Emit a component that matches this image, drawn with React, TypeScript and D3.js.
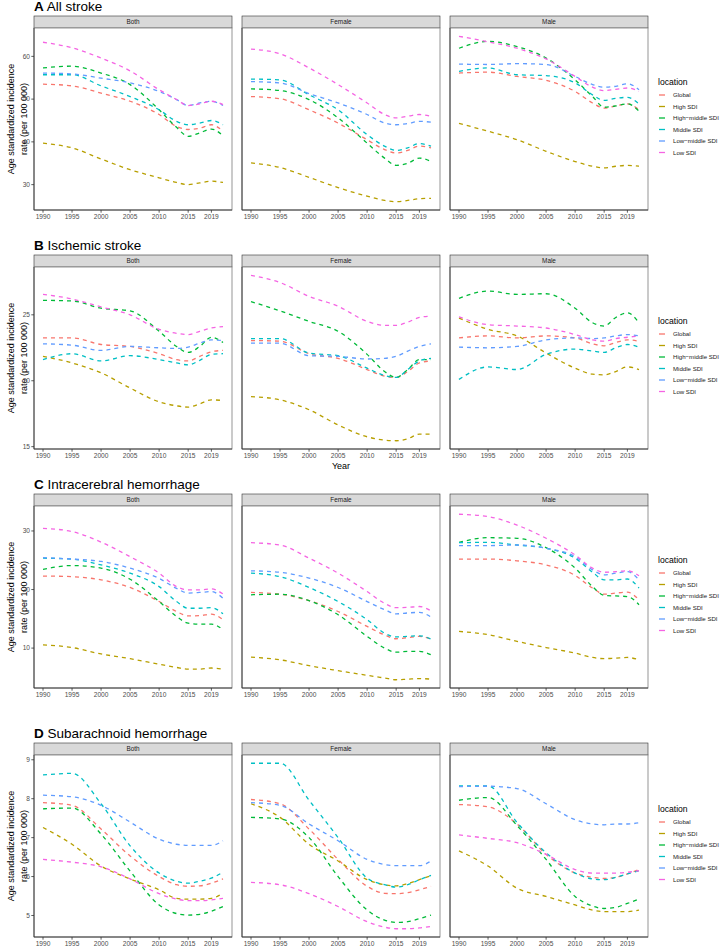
import React from "react";
import * as d3 from "d3";

const years = [1990, 1995, 2000, 2005, 2010, 2013, 2015, 2017, 2019, 2021];
const locations = ["Global", "High SDI", "High\u2212middle SDI", "Middle SDI", "Low\u2212middle SDI", "Low SDI"];
const colors = ["#F8766D", "#B79F00", "#00BA38", "#00BFC4", "#619CFF", "#F564E3"];
const sexes = ["Both", "Female", "Male"];
const xTicks = [1990, 1995, 2000, 2005, 2010, 2015, 2019];

// order: Global, High, High-middle, Middle, Low-middle, Low
const allStrokeBoth = [
  [53.5, 53.1, 51.4, 49.5, 46.4, 43.6, 42.9, 43.2, 44.0, 42.5],
  [39.7, 38.6, 36.0, 33.5, 31.6, 30.5, 30.0, 30.4, 30.8, 30.5],
  [57.3, 57.7, 56.1, 53.4, 47.5, 43.4, 41.3, 42.1, 43.0, 41.4],
  [55.7, 55.7, 53.1, 50.6, 47.5, 44.8, 44.0, 44.4, 45.0, 44.0],
  [56.1, 55.9, 54.9, 53.8, 51.8, 49.9, 48.5, 49.1, 49.5, 48.5],
  [63.3, 62.0, 59.6, 56.6, 52.2, 49.9, 48.5, 48.9, 49.5, 48.7],
];
const allStrokeFemale = [
  [50.6, 50.1, 47.5, 44.4, 40.5, 38.2, 37.4, 38.0, 39.0, 38.6],
  [35.1, 34.0, 31.7, 29.3, 27.3, 26.3, 26.0, 26.3, 26.7, 26.8],
  [52.4, 52.0, 49.9, 45.6, 39.7, 36.2, 34.5, 35.0, 36.2, 35.4],
  [54.7, 54.5, 51.0, 47.5, 41.7, 39.0, 38.0, 38.6, 39.6, 39.0],
  [54.1, 53.8, 51.3, 49.1, 46.4, 44.4, 44.0, 44.3, 44.8, 44.6],
  [61.7, 60.6, 57.3, 53.4, 49.1, 46.4, 45.6, 46.0, 46.4, 46.0],
];
const allStrokeMale = [
  [56.1, 56.3, 55.3, 54.4, 51.8, 49.1, 47.9, 48.4, 48.9, 47.5],
  [44.3, 42.5, 40.5, 37.8, 35.4, 34.3, 33.9, 34.3, 34.5, 34.3],
  [61.9, 63.5, 62.3, 59.6, 54.5, 50.6, 48.1, 48.4, 48.9, 47.2],
  [56.5, 57.3, 55.7, 55.5, 53.8, 51.0, 49.7, 50.2, 50.4, 48.9],
  [58.2, 58.1, 58.3, 58.1, 55.3, 53.4, 52.8, 53.0, 53.6, 52.2],
  [64.7, 63.4, 61.9, 59.4, 55.3, 52.8, 52.0, 52.3, 52.6, 51.8],
];
const ischemicBoth = [
  [23.25, 23.25, 22.75, 22.6, 22.05, 21.6, 21.5, 21.85, 22.2, 22.3],
  [21.85, 21.35, 20.6, 19.45, 18.4, 18.1, 18.0, 18.25, 18.55, 18.5],
  [26.1, 26.05, 25.5, 25.3, 23.75, 22.6, 22.15, 22.6, 23.3, 22.9],
  [21.6, 22.05, 21.5, 21.9, 21.6, 21.35, 21.2, 21.55, 22.0, 22.05],
  [22.8, 22.7, 22.3, 22.6, 22.5, 22.45, 22.55, 22.85, 23.1, 23.05],
  [26.55, 26.2, 25.6, 25.0, 23.9, 23.6, 23.5, 23.75, 24.0, 24.1],
];
const ischemicFemale = [
  [23.05, 23.0, 22.05, 21.7, 20.85, 20.35, 20.25, 20.7, 21.35, 21.5],
  [18.8, 18.55, 17.8, 16.65, 15.75, 15.5, 15.45, 15.6, 15.95, 15.95],
  [26.0, 25.3, 24.5, 23.75, 22.0, 20.7, 20.25, 20.85, 21.6, 21.6],
  [23.2, 23.2, 22.1, 21.9, 20.95, 20.4, 20.25, 20.85, 21.5, 21.7],
  [22.85, 22.85, 21.9, 21.85, 21.65, 21.7, 21.85, 22.25, 22.6, 22.8],
  [28.0, 27.45, 26.4, 25.65, 24.5, 24.2, 24.2, 24.45, 24.8, 24.9],
];
const ischemicMale = [
  [23.25, 23.4, 23.25, 23.4, 23.25, 22.8, 22.65, 22.9, 23.1, 23.0],
  [24.75, 23.9, 23.4, 22.1, 20.95, 20.5, 20.45, 20.7, 21.05, 20.85],
  [26.25, 26.8, 26.55, 26.6, 25.5, 24.4, 24.15, 24.8, 25.15, 24.4],
  [20.1, 21.05, 20.85, 22.0, 22.4, 22.25, 22.15, 22.5, 22.75, 22.55],
  [22.55, 22.5, 22.6, 23.1, 23.25, 23.2, 23.25, 23.4, 23.5, 23.4],
  [24.85, 24.25, 24.15, 24.0, 23.5, 23.1, 23.0, 23.2, 23.3, 23.4],
];
const ichBoth = [
  [22.3, 22.2, 21.65, 20.35, 17.95, 16.25, 15.5, 15.55, 15.8, 14.85],
  [10.55, 10.1, 9.0, 8.2, 7.25, 6.7, 6.4, 6.4, 6.6, 6.4],
  [23.45, 24.1, 23.65, 21.75, 17.95, 15.4, 14.25, 14.1, 14.1, 13.15],
  [25.35, 25.2, 24.2, 22.8, 20.5, 17.95, 16.8, 16.8, 16.9, 15.85],
  [25.45, 25.2, 24.8, 23.65, 21.9, 20.2, 19.4, 19.5, 19.65, 18.5],
  [30.45, 29.9, 28.1, 25.6, 22.8, 20.5, 19.95, 19.95, 20.1, 19.25],
];
const ichFemale = [
  [19.5, 19.2, 18.1, 16.25, 13.7, 12.25, 11.6, 11.8, 12.0, 11.55],
  [8.45, 8.0, 7.0, 6.15, 5.35, 4.9, 4.6, 4.7, 4.8, 4.7],
  [19.1, 19.2, 18.1, 15.7, 12.0, 10.0, 9.3, 9.45, 9.45, 8.85],
  [22.8, 22.2, 20.35, 17.95, 14.85, 12.55, 11.9, 12.0, 12.1, 11.55],
  [23.2, 22.95, 21.95, 20.35, 17.95, 16.55, 15.85, 16.0, 16.1, 15.3],
  [28.0, 27.6, 25.35, 22.8, 19.65, 17.65, 16.9, 16.95, 17.1, 16.35],
];
const ichMale = [
  [25.2, 25.2, 24.9, 24.2, 22.4, 20.25, 19.2, 19.4, 19.55, 18.25],
  [12.85, 12.3, 11.15, 10.1, 9.15, 8.4, 8.2, 8.3, 8.4, 8.0],
  [28.05, 28.85, 28.75, 27.15, 23.65, 20.5, 19.0, 18.9, 18.8, 17.4],
  [28.0, 28.05, 27.6, 27.05, 25.35, 22.95, 21.65, 21.65, 21.8, 20.25],
  [27.5, 27.5, 27.6, 27.05, 25.6, 23.35, 22.5, 22.8, 23.05, 21.65],
  [32.85, 32.45, 31.0, 28.75, 25.9, 23.65, 22.95, 23.05, 23.2, 22.35],
];
const sahBoth = [
  [7.9, 7.83, 7.22, 6.53, 6.0, 5.79, 5.75, 5.76, 5.83, 5.94],
  [7.26, 6.83, 6.27, 5.94, 5.66, 5.44, 5.42, 5.42, 5.44, 5.57],
  [7.74, 7.76, 7.09, 6.14, 5.27, 5.05, 5.01, 5.03, 5.11, 5.23],
  [8.61, 8.65, 7.87, 6.79, 6.09, 5.88, 5.83, 5.88, 5.96, 6.11],
  [8.09, 8.05, 7.83, 7.4, 6.96, 6.83, 6.8, 6.8, 6.8, 6.92],
  [6.44, 6.37, 6.25, 5.94, 5.56, 5.42, 5.38, 5.38, 5.4, 5.44],
];
const sahFemale = [
  [7.98, 7.87, 7.22, 6.44, 5.75, 5.57, 5.56, 5.59, 5.66, 5.75],
  [7.87, 7.52, 6.83, 6.4, 5.92, 5.79, 5.76, 5.82, 5.92, 6.02],
  [7.52, 7.48, 7.0, 6.0, 5.14, 4.88, 4.82, 4.84, 4.92, 5.01],
  [8.91, 8.91, 7.96, 7.0, 5.96, 5.79, 5.73, 5.79, 5.92, 6.03],
  [7.9, 7.83, 7.35, 6.92, 6.44, 6.31, 6.28, 6.28, 6.28, 6.4],
  [5.85, 5.79, 5.56, 5.23, 4.84, 4.7, 4.66, 4.66, 4.68, 4.72],
];
const sahMale = [
  [7.85, 7.79, 7.35, 6.57, 6.09, 5.98, 5.95, 5.98, 6.07, 6.18],
  [6.66, 6.27, 5.7, 5.49, 5.27, 5.14, 5.1, 5.1, 5.1, 5.14],
  [7.96, 8.03, 7.31, 6.44, 5.49, 5.24, 5.18, 5.21, 5.31, 5.42],
  [8.33, 8.33, 7.39, 6.61, 6.09, 5.94, 5.92, 5.98, 6.07, 6.15],
  [8.31, 8.32, 8.26, 7.87, 7.46, 7.35, 7.33, 7.35, 7.35, 7.38],
  [7.07, 6.98, 6.87, 6.57, 6.18, 6.09, 6.09, 6.09, 6.11, 6.15],
];

const panelLetters = ["A", "B", "C", "D"];
const panelNames = ["All stroke", "Ischemic stroke", "Intracerebral hemorrhage", "Subarachnoid hemorrhage"];
const panelData = [
  [allStrokeBoth, allStrokeFemale, allStrokeMale],
  [ischemicBoth, ischemicFemale, ischemicMale],
  [ichBoth, ichFemale, ichMale],
  [sahBoth, sahFemale, sahMale],
];
const panelYTicks = [
  [30, 40, 50, 60],
  [15, 20, 25],
  [10, 20, 30],
  [5, 6, 7, 8, 9],
];

const W = 720;
const H = 947;
const FONT = "Liberation Sans, Arial, Helvetica, sans-serif";
const stripTops = [16, 255, 494, 743];
const facetLefts = [34, 242, 450];
const facetW = 198;
const stripH = 12;
const plotH = 182;

function Panel({ idx }: { idx: number }) {
  const stripTop = stripTops[idx];
  const plotTop = stripTop + stripH;
  const plotBottom = plotTop + plotH;
  const data = panelData[idx];
  const all = data.flat(2);
  const mn = d3.min(all) as number;
  const mx = d3.max(all) as number;
  const r = mx - mn;
  const y = d3.scaleLinear().domain([mn - 0.05 * r, mx + 0.05 * r]).range([plotBottom, plotTop]);
  const x0 = years[0], x1 = years[years.length - 1];
  const xr = x1 - x0;
  const cy = (plotTop + plotBottom) / 2;
  return (
    <g>
      <text x={34} y={stripTop - 5} fontSize={13.5} fill="#000">
        <tspan fontWeight="bold">{panelLetters[idx]}</tspan>
        <tspan> {panelNames[idx]}</tspan>
      </text>
      <text transform={`translate(13.5,${cy}) rotate(-90)`} textAnchor="middle" fontSize={9} fill="#000">
        Age standardized incidence
      </text>
      <text transform={`translate(26.5,${cy}) rotate(-90)`} textAnchor="middle" fontSize={9} fill="#000">
        rate (per 100 000)
      </text>
      {sexes.map((sex, fi) => {
        const fx = facetLefts[fi];
        const x = d3.scaleLinear().domain([x0 - 0.05 * xr, x1 + 0.05 * xr]).range([fx, fx + facetW]);
        const line = d3
          .line<number>()
          .x((_, i) => x(years[i]))
          .y((v) => y(v))
          .curve(d3.curveMonotoneX);
        return (
          <g key={sex}>
            <rect x={fx} y={stripTop} width={facetW} height={stripH} fill="#D9D9D9" stroke="#333" strokeWidth={0.6} />
            <text x={fx + facetW / 2} y={stripTop + 8.4} textAnchor="middle" fontSize={6.4} fill="#1A1A1A">
              {sex}
            </text>
            <rect x={fx} y={plotTop} width={facetW} height={plotH} fill="#fff" stroke="#8a8a8a" strokeWidth={0.9} />
            <line x1={fx} x2={fx} y1={plotTop} y2={plotBottom} stroke="#333" strokeWidth={0.9} />
            <line x1={fx} x2={fx + facetW} y1={plotBottom} y2={plotBottom} stroke="#333" strokeWidth={0.9} />
            {data[fi].map((vals, si) => (
              <path
                key={si}
                d={line(vals) || ""}
                fill="none"
                stroke={colors[si]}
                strokeWidth={1.3}
                strokeDasharray="4,4"
              />
            ))}
            {xTicks.map((t) => (
              <g key={t}>
                <line x1={x(t)} x2={x(t)} y1={plotBottom} y2={plotBottom + 2.7} stroke="#333" strokeWidth={0.8} />
                <text x={x(t)} y={plotBottom + 9.4} textAnchor="middle" fontSize={6.6} fill="#4D4D4D">
                  {t}
                </text>
              </g>
            ))}
            {fi === 0 &&
              panelYTicks[idx].map((t) => (
                <g key={t}>
                  <line x1={fx - 2.7} x2={fx} y1={y(t)} y2={y(t)} stroke="#333" strokeWidth={0.8} />
                  <text x={fx - 4} y={y(t) + 2.3} textAnchor="end" fontSize={6.6} fill="#4D4D4D">
                    {t}
                  </text>
                </g>
              ))}
          </g>
        );
      })}
      {idx === 1 && (
        <text x={facetLefts[1] + facetW / 2} y={plotBottom + 20} textAnchor="middle" fontSize={9} fill="#000">
          Year
        </text>
      )}
      <g>
        <text x={658} y={cy - 34} fontSize={8.6} fill="#000">
          location
        </text>
        {locations.map((loc, li) => {
          const ly = cy - 24 + li * 11.5;
          return (
            <g key={loc}>
              <line x1={659} x2={665} y1={ly} y2={ly} stroke={colors[li]} strokeWidth={1.3} />
              <text x={673} y={ly + 2.2} fontSize={6.1} fill="#1A1A1A">
                {loc}
              </text>
            </g>
          );
        })}
      </g>
    </g>
  );
}

export default function App() {
  return (
    <svg
      width={W}
      height={H}
      viewBox={`0 0 ${W} ${H}`}
      style={{ position: "absolute", left: 0, top: 0, background: "#fff" }}
      fontFamily={FONT}
    >
      <rect width={W} height={H} fill="#fff" />
      {panelLetters.map((_, i) => (
        <Panel key={i} idx={i} />
      ))}
    </svg>
  );
}
